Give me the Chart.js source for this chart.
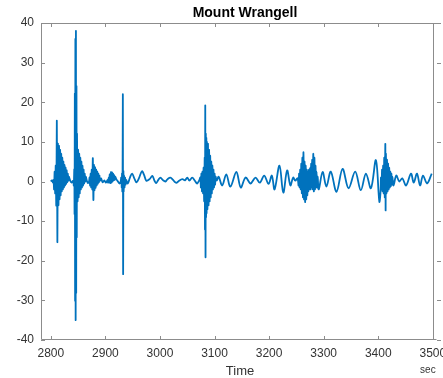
<!DOCTYPE html>
<html>
<head>
<meta charset="utf-8">
<title>Mount Wrangell</title>
<script src="https://cdn.jsdelivr.net/npm/chart.js@4"></script>
<style>
  html, body { margin: 0; padding: 0; background: #ffffff; }
  #wrap { width: 443px; height: 378px; }
  canvas { display: block; }
</style>
</head>
<body>
<div id="wrap"><canvas id="seis" width="443" height="378"></canvas></div>
<script>
// Seismogram trace, Mount Wrangell station (time in seconds, amplitude in counts)
const timeSec = [
  2800, 2802, 2804, 2805,
  2806, 2807, 2808, 2809, 2810, 2811, 2812, 2813, 2814, 2815, 2816, 2817, 2818, 2819,
  2820, 2821, 2822, 2823, 2824, 2825, 2826, 2827, 2828, 2829, 2830, 2831, 2832, 2833,
  2835, 2838, 2841,
  2842, 2843, 2843.5, 2844, 2844.5, 2845, 2845.5, 2846, 2846.5, 2847, 2847.5, 2848,
  2849, 2850, 2851, 2852, 2853, 2854, 2855, 2856, 2857, 2858, 2859, 2860, 2861, 2862, 2863, 2864,
  2866, 2868, 2870,
  2871, 2872, 2873, 2874, 2875, 2876, 2877, 2878, 2879, 2880, 2881, 2882, 2883, 2884,
  2885, 2886, 2887, 2888, 2889, 2890,
  2892, 2895, 2898, 2901, 2904,
  2905, 2906, 2907, 2908, 2909, 2910, 2911, 2912, 2913, 2914, 2915, 2916, 2917, 2918, 2920,
  2923, 2926, 2928,
  2929, 2930, 2930.5, 2931, 2931.5, 2932, 2932.5, 2933, 2933.5, 2934, 2935, 2936, 2937, 2938,
  2941, 2945, 2949, 2953, 2957, 2962, 2967, 2971, 2975, 2981, 2986, 2990, 2993, 2997, 3001, 3005,
  3010, 3014, 3019, 3024, 3028, 3031, 3035, 3041, 3046, 3050, 3054, 3059, 3064, 3068, 3072,
  3074, 3075, 3076, 3077, 3078, 3079, 3080, 3081, 3082, 3082.5, 3083, 3083.5, 3084, 3084.5,
  3085, 3085.5, 3086, 3087, 3088, 3089, 3090, 3091, 3092, 3093, 3094, 3095, 3096, 3097,
  3098, 3099, 3100, 3101, 3102,
  3104, 3107.5, 3114, 3121.5, 3129, 3140, 3148, 3157, 3166, 3175, 3183, 3191, 3199, 3205,
  3210, 3219, 3226, 3233, 3239, 3244, 3248, 3252,
  3254, 3255, 3256, 3257, 3258, 3259, 3260, 3261, 3262, 3263, 3264, 3265, 3266, 3267,
  3268, 3269, 3270, 3271, 3272, 3273, 3274, 3275, 3276, 3277, 3278, 3279, 3280, 3281,
  3282, 3283, 3284, 3285, 3286, 3287, 3288, 3289, 3291,
  3298, 3305, 3313, 3323.5, 3334.6, 3345.5, 3357.8, 3368, 3377.4, 3386.6, 3395.7, 3402,
  3404, 3405, 3406, 3407, 3408, 3409, 3410, 3411, 3412, 3413, 3413.5, 3414, 3415, 3416,
  3417, 3418, 3419, 3420, 3421, 3422, 3423, 3424, 3425, 3426, 3428,
  3433, 3438.6, 3444, 3451, 3460, 3465, 3471, 3476.6, 3482, 3489.5, 3498
];
const amplitude = [
  0, 0.3, -0.3, 0.4,
  -2, 2.5, -3, 4, -6, 15.3, -15.3, 9.5, -6, 9, -4.5, 8, -3.5, 7,
  -2.5, 6, -2, 5, -1.5, 4.2, -1, 3.5, -0.6, 2.8, -0.2, 2, 0.2, 1.2,
  0.4, -0.3, 0.2,
  -1, 3, -8, 22, -30, 36, -35, 38, -28, 24, -14, 12,
  -5, 8, -4, 7, -3, 6, -2, 5, -1.5, 4, -1, 3, -0.5, 2, 0, 1.2,
  0.2, -0.4, 0,
  1, -1, 2, -1.5, 3, -2, 5.9, -4.7, 4.2, -2.2, 3.6, -1.6, 3, -1,
  2.5, -0.6, 2, -0.2, 1.5, 0.2,
  0.8, -0.2, 0.3, -0.3, 0.4,
  -0.3, 1, -0.2, 1.8, -0.4, 2.4, -0.3, 2.3, 0, 2, 0.3, 1.6, 0.4, 1.2, 0.6,
  0, -0.5, 0,
  1, -1.5, 2, -2.5, 3, 21.7, -23.2, 2.5, -2.5, 1.5, -1.5, 1, -0.8, 0.4,
  -0.5, 1.0, 2.0, 0.8, -0.2, 1.0, 2.6, 1.6, 0.2, 0.6, 1.4, 0.2, -0.4, 0.4, 1.0, 0.4,
  0.0, 0.6, 1.0, 0.4, -0.2, -0.3, 0.2, 0.6, 0.3, 1.0, 0.2, 1.0, 0.2, -0.5, 0.3,
  1, -1.5, 2, -2.5, 2.5, -3, 3.5, -5, 6, -12, 19.2, -19.1, 12, -9,
  11, -8, 10, -7, 9.5, -6, 8, -5, 6.5, -4, 5, -3, 4, -2,
  3, -1.5, 2, -0.8, 1.2,
  0.2, 1.2, -1, 1.8, -1.3, 2.4, -1.5, 1, -0.5, 1, -0.3, 1.5, -0.6, 1.5,
  -2, 4, -2.8, 2.8, -1, 1, 0.2, 0.8,
  -1, 2, -1.5, 3, -2, 4.5, -3, 6, -4, 7.4, -4.5, 5, -5.2, 4,
  -4.5, 3, -3.5, 2.5, -2.5, 3, -2, 3.5, -2, 4.5, -1.5, 5.5, -2, 7,
  -2.5, 6, -2, 4, -1.5, 2.5, -1.5, 1.2, -2,
  2.4, -1.3, 2.5, -2.6, 3.2, -1.7, 2.5, -2.2, 2.0, -1.7, 5.4, -5.1,
  -3, 1, -2, 3, -2.5, 4, -3, 6, -4, 9.5, -7.3, 7, -3, 5.5,
  -2.5, 4.5, -2, 3.5, -1.5, 2.5, -1.2, 2, -0.8, 1.2, -1,
  1.5, 0, 0.8, -1, 2, -0.3, 2, -1, 1.5, -0.5, 2
];

const xTicks = [2800, 2900, 3000, 3100, 3200, 3300, 3400, 3500];
const yTicks = [-40, -30, -20, -10, 0, 10, 20, 30, 40];
const xLimitMark = 3500;

const titleText = 'Mount Wrangell';
const xLabel = 'Time';
const xUnit = 'sec';

const lineBlue = '#0072BD';
const axisGray = '#8c8c8c';
const labelGray = '#333333';
const fontFamily = '"Liberation Sans", Arial, Helvetica, sans-serif';

// Axis frame: left, top and bottom lines, a closing line at the last tick,
// inward ticks on every side, plus title and axis captions
const framePlugin = {
  id: 'frame',
  afterDraw(chart) {
    const { ctx, chartArea: a, scales } = chart;
    const sx = scales.x, sy = scales.y;
    const tick = 4;
    const L = a.left + 0.5, T = a.top + 0.5, B = a.bottom - 0.5, R = a.right - 0.5;
    ctx.save();
    ctx.strokeStyle = axisGray;
    ctx.lineWidth = 1;
    ctx.beginPath();
    ctx.moveTo(R, T); ctx.lineTo(L, T); ctx.lineTo(L, B); ctx.lineTo(R - 4, B);
    xTicks.forEach(v => {
      const px = Math.round(sx.getPixelForValue(v)) + 0.5;
      ctx.moveTo(px, a.bottom); ctx.lineTo(px, a.bottom - tick);
      ctx.moveTo(px, a.top); ctx.lineTo(px, a.top + tick);
    });
    yTicks.forEach(v => {
      const py = Math.round(sy.getPixelForValue(v)) + 0.5;
      ctx.moveTo(a.left, py); ctx.lineTo(a.left + tick, py);
      ctx.moveTo(a.right, py); ctx.lineTo(a.right - tick, py);
    });
    const ex = Math.round(sx.getPixelForValue(xLimitMark)) + 0.5;
    ctx.moveTo(ex, a.top); ctx.lineTo(ex, a.bottom);
    ctx.stroke();

    ctx.textAlign = 'center';
    ctx.textBaseline = 'middle';
    ctx.fillStyle = '#000000';
    ctx.font = 'bold 14px ' + fontFamily;
    ctx.fillText(titleText, 245, 13);
    ctx.fillStyle = labelGray;
    ctx.font = '13px ' + fontFamily;
    ctx.fillText(xLabel, 240, 371);
    ctx.font = '10px ' + fontFamily;
    ctx.fillText(xUnit, sx.getPixelForValue(3491), 370);
    ctx.restore();
  }
};

// Keep tick labels from shrinking the plotting area
const noLabelPadding = s => {
  s.paddingLeft = 0; s.paddingRight = 0; s.paddingTop = 0; s.paddingBottom = 0;
};

const points = timeSec.map((t, i) => ({ x: t, y: amplitude[i] }));

new Chart(document.getElementById('seis'), {
  type: 'line',
  data: {
    datasets: [{
      data: points,
      borderColor: lineBlue,
      borderWidth: 1.8,
      pointRadius: 0,
      tension: 0.35,
      fill: false
    }]
  },
  options: {
    responsive: false,
    animation: false,
    devicePixelRatio: 1,
    layout: { autoPadding: false, padding: { left: 0, right: 2, top: 23, bottom: 0 } },
    plugins: { legend: { display: false }, tooltip: { enabled: false }, title: { display: false } },
    scales: {
      x: {
        type: 'linear',
        min: 2782,
        max: 3515,
        afterBuildTicks: s => { s.ticks = xTicks.map(v => ({ value: v })); },
        afterFit: s => { s.height = 38; noLabelPadding(s); },
        grid: { display: false, drawTicks: false },
        border: { display: false },
        ticks: {
          color: labelGray,
          font: { family: fontFamily, size: 12 },
          padding: 6,
          maxRotation: 0,
          autoSkip: false,
          callback: v => String(v)
        }
      },
      y: {
        type: 'linear',
        min: -40,
        max: 40,
        afterBuildTicks: s => { s.ticks = yTicks.map(v => ({ value: v })); },
        afterFit: s => { s.width = 41; noLabelPadding(s); },
        grid: { display: false, drawTicks: false },
        border: { display: false },
        ticks: {
          color: labelGray,
          font: { family: fontFamily, size: 12 },
          padding: 7,
          autoSkip: false,
          callback: v => String(v)
        }
      }
    }
  },
  plugins: [framePlugin]
});
</script>
</body>
</html>
